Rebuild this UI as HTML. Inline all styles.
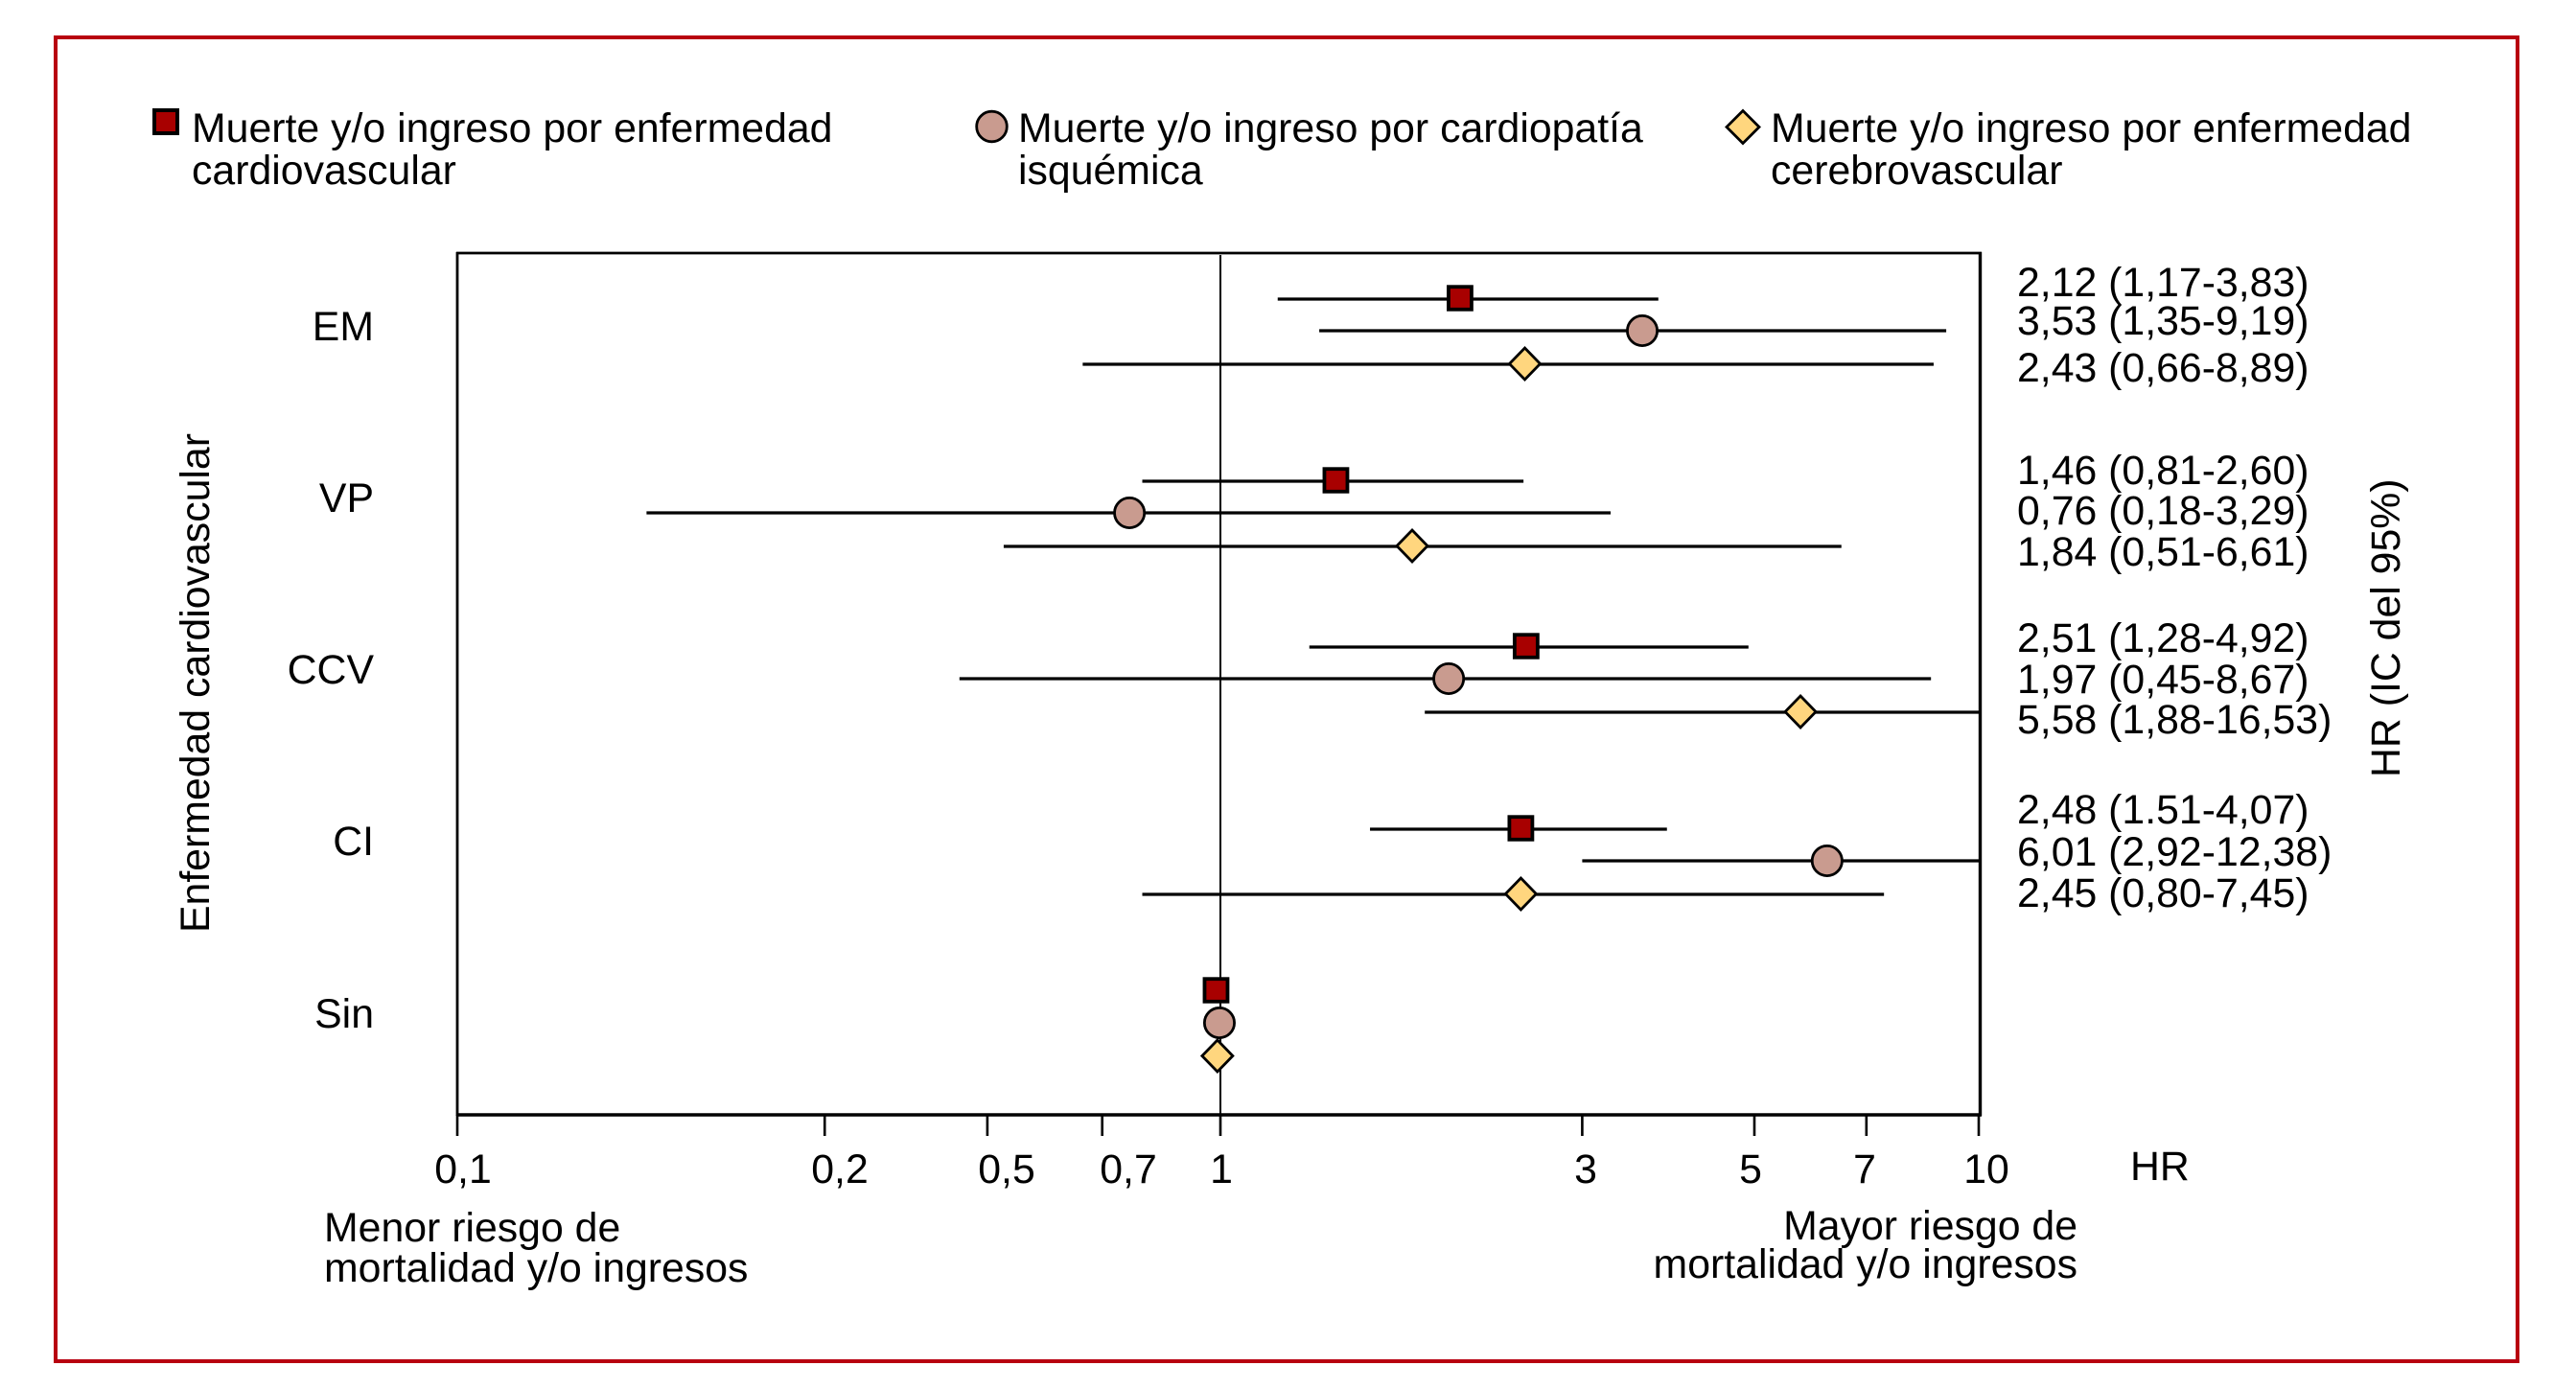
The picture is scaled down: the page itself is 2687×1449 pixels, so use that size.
<!DOCTYPE html>
<html lang="es">
<head>
<meta charset="utf-8">
<title>Forest plot: HR de mortalidad y/o ingresos</title>
<style>
  html, body { margin: 0; padding: 0; background: #fff; }
  svg { display: block; }
  text { font-family: "Liberation Sans", Arial, sans-serif; font-size: 42.8px; fill: #000; }
</style>
</head>
<body>
<svg id="chart" xmlns="http://www.w3.org/2000/svg" width="2687" height="1449" viewBox="0 0 2687 1449">
  <rect x="58" y="39" width="2568" height="1381" fill="#fff" stroke="#b80010" stroke-width="4"/>

  <g>
    <rect x="161" y="115" width="24" height="24" fill="#a80000" stroke="#000" stroke-width="4"/>
    <text><tspan x="200" y="148">Muerte y/o ingreso por enfermedad</tspan><tspan x="200" y="192">cardiovascular</tspan></text>
    <circle cx="1034.5" cy="132" r="15.8" fill="#c99b8f" stroke="#000" stroke-width="2.8"/>
    <text><tspan x="1062" y="148">Muerte y/o ingreso por cardiopatía</tspan><tspan x="1062" y="192">isquémica</tspan></text>
    <path d="M1818 115.5 L1835 132.5 L1818 149.5 L1801 132.5 Z" fill="#ffd67e" stroke="#000" stroke-width="2.8"/>
    <text><tspan x="1847" y="148">Muerte y/o ingreso por enfermedad</tspan><tspan x="1847" y="192">cerebrovascular</tspan></text>
  </g>

  <g id="plot-frame">
    <line x1="476" y1="264" x2="2067" y2="264" stroke="#000" stroke-width="2.8"/>
    <line x1="477" y1="263" x2="477" y2="1164" stroke="#000" stroke-width="2.8"/>
    <line x1="2065.5" y1="263" x2="2065.5" y2="1164" stroke="#000" stroke-width="3.4"/>
    <line x1="476" y1="1163" x2="2067" y2="1163" stroke="#000" stroke-width="3.6"/>
  </g>
  <g id="ticks"></g>
  <g id="whiskers"></g>
  <line id="ref-line" y1="266" y2="1164" stroke="#000" stroke-width="2"/>
  <g id="markers"></g>

  <g>
    <text x="483" y="1234" text-anchor="middle">0,1</text>
    <text x="876" y="1234" text-anchor="middle">0,2</text>
    <text x="1050" y="1234" text-anchor="middle">0,5</text>
    <text x="1177" y="1234" text-anchor="middle">0,7</text>
    <text x="1274" y="1234" text-anchor="middle">1</text>
    <text x="1654" y="1234" text-anchor="middle">3</text>
    <text x="1826" y="1234" text-anchor="middle">5</text>
    <text x="1945" y="1234" text-anchor="middle">7</text>
    <text x="2072" y="1234" text-anchor="middle">10</text>
    <text x="2222" y="1231">HR</text>
  </g>

  <g>
    <text><tspan x="338" y="1295">Menor riesgo de</tspan><tspan x="338" y="1337">mortalidad y/o ingresos</tspan></text>
    <text text-anchor="end"><tspan x="2167" y="1293">Mayor riesgo de</tspan><tspan x="2167" y="1333">mortalidad y/o ingresos</tspan></text>
  </g>

  <g text-anchor="end">
    <text x="390" y="355">EM</text>
    <text x="390" y="534">VP</text>
    <text x="390" y="713">CCV</text>
    <text x="390" y="892">CI</text>
    <text x="390" y="1072">Sin</text>
  </g>

  <text transform="translate(218 973) rotate(-90)">Enfermedad cardiovascular</text>
  <text transform="translate(2503 811) rotate(-90)">HR (IC del 95%)</text>

  <g>
    <text x="2104" y="309">2,12 (1,17-3,83)</text>
    <text x="2104" y="349">3,53 (1,35-9,19)</text>
    <text x="2104" y="398">2,43 (0,66-8,89)</text>
    <text x="2104" y="505">1,46 (0,81-2,60)</text>
    <text x="2104" y="547">0,76 (0,18-3,29)</text>
    <text x="2104" y="590">1,84 (0,51-6,61)</text>
    <text x="2104" y="680">2,51 (1,28-4,92)</text>
    <text x="2104" y="723">1,97 (0,45-8,67)</text>
    <text x="2104" y="765">5,58 (1,88-16,53)</text>
    <text x="2104" y="859">2,48 (1.51-4,07)</text>
    <text x="2104" y="903">6,01 (2,92-12,38)</text>
    <text x="2104" y="946">2,45 (0,80-7,45)</text>
  </g>
</svg>

<script>
const categories = ["EM", "VP", "CCV", "CI", "Sin"];
const seriesNames = ["cardiovascular", "ischemic", "cerebrovascular"];
// Tick locations as they sit on the drawn axis (the tick labelled 0,2 sits near 0.3 in the original).
const tickValues = [0.1, 0.303, 0.495, 0.7, 1, 3, 5.06, 7.11, 10];

const cardiovascularHR = [2.07, 1.42, 2.53, 2.49, 0.987];
const cardiovascularLow = [1.19, 0.79, 1.31, 1.575, null];
const cardiovascularHigh = [3.78, 2.51, 4.97, 3.88, null];

const ischemicHR = [3.60, 0.76, 2.00, 6.31, 0.997];
const ischemicLow = [1.35, 0.177, 0.455, 3.00, null];
const ischemicHigh = [9.06, 3.27, 8.65, 12.38, null];

const cerebrovascularHR = [2.52, 1.79, 5.82, 2.49, 0.991];
const cerebrovascularLow = [0.66, 0.52, 1.86, 0.79, null];
const cerebrovascularHigh = [8.72, 6.59, 16.53, 7.50, null];

const SVG_NS = "http://www.w3.org/2000/svg";
const xMin = 0.1;
const xMax = 10;

// Log axis: slightly different pixel scale either side of HR = 1, as drawn in the figure.
function xScale(v) {
  const clamped = Math.min(xMax, Math.max(xMin, v));
  const decades = Math.log10(clamped);
  return 1273 + decades * (decades < 0 ? 796 : 791);
}

// Categorical y axis: band centre for each category plus a per-series slot.
function yScale(categoryIndex, seriesIndex) {
  const bandCentres = [345, 535, 708, 898, 1067];
  const seriesSlots = [-33, 0, 35];
  return bandCentres[categoryIndex] + seriesSlots[seriesIndex];
}

function make(tag, attrs) {
  const el = document.createElementNS(SVG_NS, tag);
  for (const k in attrs) el.setAttribute(k, attrs[k]);
  return el;
}

const ticksGroup = document.getElementById("ticks");
tickValues.forEach(function (t) {
  const tick = make("line", {
    x1: xScale(t), x2: xScale(t), y1: 1163, y2: 1185,
    stroke: "#000", "stroke-width": 2.6
  });
  
  
  ticksGroup.appendChild(tick);
});

const refLine = document.getElementById("ref-line");
refLine.setAttribute("x1", xScale(1));
refLine.setAttribute("x2", xScale(1));

const whiskers = document.getElementById("whiskers");
const markers = document.getElementById("markers");

function drawWhisker(low, high, ci, si) {
  if (low === null || high === null) return;
  const y = yScale(ci, si);
  const line = make("line", {
    x1: xScale(low), x2: xScale(high), y1: y, y2: y,
    stroke: "#000", "stroke-width": 3.2
  });
  
  
  whiskers.appendChild(line);
}

function drawSquare(hr, ci) {
  const x = xScale(hr);
  const y = yScale(ci, 0) - 1;
  const el = make("rect", {
    x: x - 12, y: y - 11.8, width: 24, height: 23.6,
    fill: "#a80000", stroke: "#000", "stroke-width": 3.8
  });
  
  
  markers.appendChild(el);
}

function drawCircle(hr, ci) {
  const el = make("circle", {
    cx: xScale(hr), cy: yScale(ci, 1), r: 15.6,
    fill: "#c99b8f", stroke: "#000", "stroke-width": 2.8
  });
  
  
  markers.appendChild(el);
}

function drawDiamond(hr, ci) {
  const x = xScale(hr);
  const y = yScale(ci, 2) - 0.5;
  const d = "M" + x + " " + (y - 16.5) + " L" + (x + 16) + " " + y +
            " L" + x + " " + (y + 16.5) + " L" + (x - 16) + " " + y + " Z";
  const el = make("path", {
    d: d, fill: "#ffd67e", stroke: "#000", "stroke-width": 2.8
  });
  
  
  markers.appendChild(el);
}

categories.forEach(function (name, ci) {
  drawWhisker(cardiovascularLow[ci], cardiovascularHigh[ci], ci, 0);
  drawWhisker(ischemicLow[ci], ischemicHigh[ci], ci, 1);
  drawWhisker(cerebrovascularLow[ci], cerebrovascularHigh[ci], ci, 2);
  drawSquare(cardiovascularHR[ci], ci);
  drawCircle(ischemicHR[ci], ci);
  drawDiamond(cerebrovascularHR[ci], ci);
});
</script>
</body>
</html>
